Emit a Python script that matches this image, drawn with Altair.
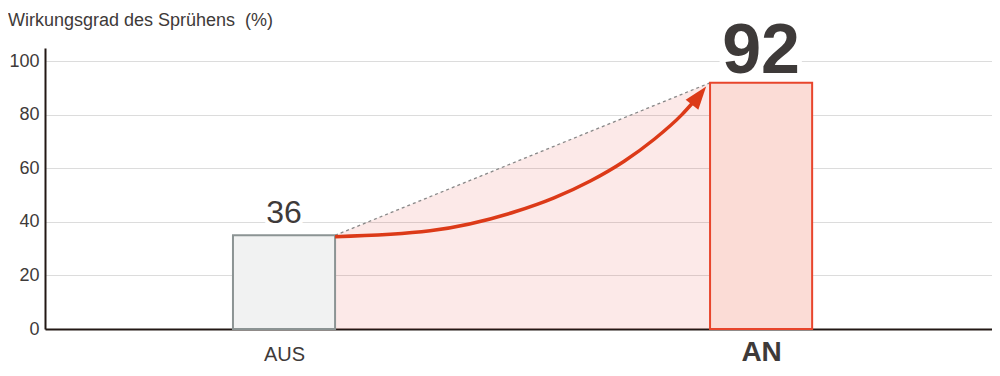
import altair as alt
import pandas as pd

# ---- data ----
CATEGORIES = ["AUS", "AN"]
BAR_VALUES = [35, 92]
VALUE_LABELS = ["36", "92"]
TITLE = ["Wirkungsgrad des Sprühens\u00a0 (%)"]
Y_TICKS = [0, 20, 40, 60, 80, 100]
ARROW_X = [0.107, 0.306, 0.484, 0.566, 0.642, 0.713, 0.776, 0.834, 0.855]
ARROW_Y = [34.5, 36.7, 43.8, 49.0, 55.3, 62.7, 70.9, 80.1, 84.2]
ARROW_HEAD_X = [0.870]
ARROW_HEAD_Y = [87.2]

# ---- layout / style constants ----
BAR_HALF = 0.107
FONT = "Liberation Sans"
TXT = "#3e3a39"
AXIS_C = "#231815"
RED = "#dc3a18"

bars = pd.DataFrame({
    "cat": CATEGORIES,
    "idx": list(range(len(CATEGORIES))),
    "value": BAR_VALUES,
    "label": VALUE_LABELS,
})
bars["x0"] = bars["idx"] - BAR_HALF
bars["x1"] = bars["idx"] + BAR_HALF

link = pd.DataFrame({"x": [bars["x1"][0], bars["x0"][1]], "y": BAR_VALUES})
arrow = pd.DataFrame({"x": ARROW_X, "y": ARROW_Y})
head = pd.DataFrame({"x": ARROW_HEAD_X, "y": ARROW_HEAD_Y})
title_df = pd.DataFrame({"t": TITLE})

xscale = alt.Scale(domain=[-0.501, 1.484], nice=False, zero=False)
yscale = alt.Scale(domain=[0, 105], nice=False)

label_expr = "[" + ",".join(f"'{c}'" for c in CATEGORIES) + "][datum.value]"
xaxis = alt.Axis(
    values=[0, 1], labelExpr=label_expr, grid=False, ticks=False, title=None,
    domainColor=AXIS_C, domainWidth=2, labelColor=TXT, labelFont=FONT,
    labelFontSize={"condition": {"test": "datum.value == 1", "value": 28}, "value": 20},
    labelFontWeight={"condition": {"test": "datum.value == 1", "value": "bold"}, "value": "normal"},
    labelBaseline="alphabetic", labelPadding=31,
)
yaxis = alt.Axis(
    values=Y_TICKS, grid=True, gridColor="#dcdcdc", gridWidth=1, ticks=False, title=None,
    domainColor=AXIS_C, domainWidth=2, labelColor=TXT, labelFont=FONT,
    labelFontSize=18, labelPadding=6,
)

def X(field):
    return alt.X(field, type="quantitative", scale=xscale, axis=xaxis)

def Y(field):
    return alt.Y(field, type="quantitative", scale=yscale, axis=yaxis)

area = alt.Chart(link).mark_area(color="#e8392a", fillOpacity=0.11).encode(x=X("x"), y=Y("y"))
dotted = alt.Chart(link).mark_line(color="#888888", strokeWidth=1.3, strokeDash=[3, 3]).encode(
    x=X("x"), y=Y("y"))

bar_layer = alt.Chart(bars).mark_bar(strokeWidth=2).encode(
    x=X("x0"), x2="x1", y=Y("value"), y2=alt.datum(0),
    fill=alt.Fill("cat:N", scale=alt.Scale(domain=CATEGORIES, range=["#f1f2f2", "#fbdcd6"]), legend=None),
    stroke=alt.Stroke("cat:N", scale=alt.Scale(domain=CATEGORIES, range=["#8c9494", "#e8452c"]), legend=None),
)

arrow_line = alt.Chart(arrow).mark_line(color=RED, strokeWidth=3.5, interpolate="monotone").encode(
    x=X("x"), y=Y("y"))
arrow_head = alt.Chart(head).mark_point(
    shape="M0,-1L0.7,1L-0.7,1Z", size=529, angle=38, filled=True, color=RED, opacity=1, strokeWidth=0
).encode(x=X("x"), y=Y("y"))

def value_text(i, size, weight, dy, halo):
    base = alt.Chart(bars).transform_filter(f"datum.idx == {i}")
    h = base.mark_text(font=FONT, fontSize=size, fontWeight=weight, baseline="alphabetic", dy=dy,
                       stroke="white", strokeWidth=halo, strokeJoin="round", fill="white").encode(
        x=X("idx"), y=Y("value"), text="label:N")
    t = base.mark_text(font=FONT, fontSize=size, fontWeight=weight, baseline="alphabetic", dy=dy,
                       color=TXT).encode(x=X("idx"), y=Y("value"), text="label:N")
    return h, t

h36, t36 = value_text(0, 32, "normal", -12, 8)
h92, t92 = value_text(1, 70, "bold", -10, 12)

title_layer = alt.Chart(title_df).mark_text(
    font=FONT, fontSize=18, color=TXT, align="left", baseline="alphabetic"
).encode(x=alt.value(-37), y=alt.value(-22), text="t:N")

layers = [area, dotted, h36, h92, bar_layer, arrow_line, arrow_head, t36, t92, title_layer]

chart = alt.layer(*layers).properties(
    width=947, height=281,
    padding={"left": 37, "top": 40, "right": 0, "bottom": 37},
    autosize="none",
).configure_view(stroke=None)

chart.save("out.html", embed_options={"renderer": "svg", "actions": False})
